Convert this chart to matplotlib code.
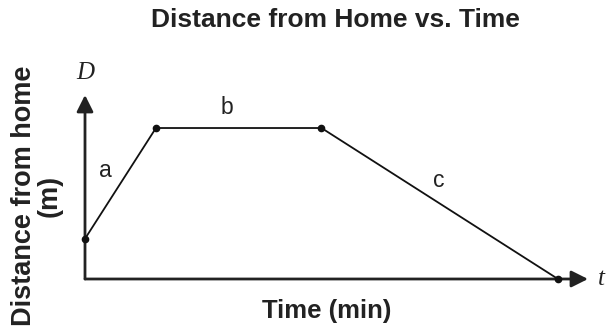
import matplotlib.pyplot as plt
from matplotlib.patches import FancyArrowPatch

# Data (time in min, distance in m)
times = [0, 3, 10, 20]
distance = [20, 75, 75, 0]
seg_labels = ["a", "b", "c"]
seg_label_pos = [(0.85, 54), (6.0, 85), (14.95, 49)]

plt.rcParams['font.family'] = ['Liberation Sans', 'DejaVu Sans']

fig = plt.figure(figsize=(6.07, 3.31), dpi=100)
ax = fig.add_axes([85/607, 52/331, 503/607, 184/331])
ax.set_xlim(0, 21.27)
ax.set_ylim(0, 91.4)
ax.axis('off')

# axes as arrows
for end in [(1, 0), (0, 1)]:
    arr = FancyArrowPatch((0, 0), end, transform=ax.transAxes,
                          arrowstyle='-|>,head_length=1.0,head_width=0.5',
                          mutation_scale=10, lw=2, color='#222222',
                          shrinkA=0, shrinkB=0, clip_on=False)
    ax.add_patch(arr)

ax.plot(times, distance, color='#111111', lw=1.3, marker='o', ms=4.5, clip_on=False)

for lab, (x, y) in zip(seg_labels, seg_label_pos):
    ax.text(x, y, lab, fontsize=16.5, ha='center', va='center', color='#222222')

ax.text(0, 1.12, 'D', transform=ax.transAxes, fontsize=18, ha='center', va='center',
        family='Liberation Serif', style='italic', color='#222222')
ax.text(1.027, 0, 't', transform=ax.transAxes, fontsize=18, ha='center', va='center',
        family='Liberation Serif', style='italic', color='#222222')

fig.text(335/607, 1 - 20/331, 'Distance from Home vs. Time', fontsize=19,
         fontweight='bold', ha='center', va='center', color='#222222')
fig.text(327/607, 1 - 311/331, 'Time (min)', fontsize=18.5,
         fontweight='bold', ha='center', va='center', color='#222222')
fig.text(37/607, 1 - 196/331, 'Distance from home\n(m)', fontsize=19.5,
         fontweight='bold', ha='center', va='center', rotation=90,
         multialignment='center', linespacing=1.0, color='#222222')

fig.savefig('out.png', dpi=100)
